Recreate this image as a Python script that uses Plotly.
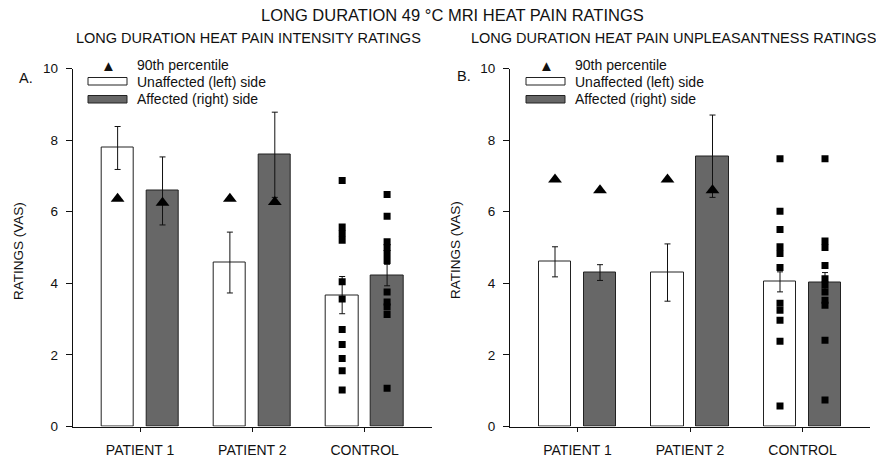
import plotly.graph_objects as go

W, H = 876, 459

groups = ["PATIENT 1", "PATIENT 2", "CONTROL"]
y_ticks = [0, 2, 4, 6, 8, 10]

# Panel A: intensity
int_unaff = [7.78, 4.58, 3.67]
int_unaff_err = [0.60, 0.85, 0.52]
int_aff = [6.58, 7.59, 4.23]
int_aff_err = [0.95, 1.19, 0.30]
int_p90_unaff = [6.36, 6.36]
int_p90_aff = [6.25, 6.27]
int_ctrl_unaff = [6.87, 5.57, 5.39, 5.20, 4.04, 3.56, 2.71, 2.29, 1.90, 1.56, 1.02]
int_ctrl_aff = [6.48, 5.87, 5.16, 5.00, 4.83, 4.64, 3.76, 3.48, 3.34, 3.13, 1.07]

# Panel B: unpleasantness
unp_unaff = [4.60, 4.30, 4.04]
unp_unaff_err = [0.42, 0.80, 0.28]
unp_aff = [4.30, 7.55, 4.02]
unp_aff_err = [0.22, 1.15, 0.28]
unp_p90_unaff = [6.90, 6.90]
unp_p90_aff = [6.60, 6.60]
unp_ctrl_unaff = [7.48, 6.01, 5.50, 5.02, 4.83, 4.44, 3.44, 3.25, 2.97, 2.38, 0.57]
unp_ctrl_aff = [7.48, 5.18, 5.00, 4.50, 4.13, 3.95, 3.76, 3.53, 3.39, 2.41, 0.74]

OFF = 0.2
BW = 0.29
GRAY = "#676767"
EDGE = "#222222"

fig = go.Figure()


def add_panel(xa, ya, unaff, unaff_err, aff, aff_err, p90u, p90a, cu, ca):
    xs = list(range(len(groups)))
    xu = [i - OFF for i in xs]
    xg = [i + OFF for i in xs]
    err_style = dict(type="data", thickness=1, width=3, color="#111111")
    fig.add_trace(go.Bar(x=xu, y=unaff, width=BW, xaxis=xa, yaxis=ya,
                         marker=dict(color="white", line=dict(color=EDGE, width=1)),
                         error_y=dict(array=unaff_err, **err_style),
                         showlegend=False, name="Unaffected (left) side"))
    fig.add_trace(go.Bar(x=xg, y=aff, width=BW, xaxis=xa, yaxis=ya,
                         marker=dict(color=GRAY, line=dict(color=EDGE, width=1)),
                         error_y=dict(array=aff_err, **err_style),
                         showlegend=False, name="Affected (right) side"))
    fig.add_trace(go.Scatter(x=xu[:2], y=p90u, xaxis=xa, yaxis=ya, mode="markers",
                             marker=dict(symbol="triangle-up", size=12, color="black"),
                             showlegend=False, name="90th percentile"))
    fig.add_trace(go.Scatter(x=xg[:2], y=p90a, xaxis=xa, yaxis=ya, mode="markers",
                             marker=dict(symbol="triangle-up", size=12, color="black"),
                             showlegend=False, name="90th percentile"))
    fig.add_trace(go.Scatter(x=[xu[2]] * len(cu), y=cu, xaxis=xa, yaxis=ya, mode="markers",
                             marker=dict(symbol="square", size=7, color="black"),
                             showlegend=False))
    fig.add_trace(go.Scatter(x=[xg[2]] * len(ca), y=ca, xaxis=xa, yaxis=ya, mode="markers",
                             marker=dict(symbol="square", size=7, color="black"),
                             showlegend=False))


add_panel("x", "y", int_unaff, int_unaff_err, int_aff, int_aff_err,
          int_p90_unaff, int_p90_aff, int_ctrl_unaff, int_ctrl_aff)
add_panel("x2", "y2", unp_unaff, unp_unaff_err, unp_aff, unp_aff_err,
          unp_p90_unaff, unp_p90_aff, unp_ctrl_unaff, unp_ctrl_aff)

FONT = "Liberation Sans, Arial, sans-serif"

def fx(px):
    return min(1.0, max(0.0, px / W))

def fy(py):
    return min(1.0, max(0.0, 1 - py / H))

xaxis_common = dict(tickvals=[0, 1, 2], ticktext=groups,
                    showline=True, linecolor="#111111", linewidth=1,
                    ticks="outside", ticklen=4, tickcolor="#111111",
                    showgrid=False, zeroline=False, ticklabelstandoff=7, automargin=False,
                    tickfont=dict(size=14, color="#111111", family=FONT))
yaxis_common = dict(range=[0, 10], tickvals=y_ticks, showline=True, linecolor="#111111",
                    linewidth=1, ticks="outside", ticklen=6, tickcolor="#111111",
                    showgrid=False, zeroline=False, ticklabelstandoff=5, automargin=False,
                    tickfont=dict(size=13.5, color="#111111", family=FONT))

fig.update_layout(
    template="none",
    width=W, height=H,
    margin=dict(l=0, r=0, t=0, b=0, autoexpand=False),
    paper_bgcolor="white", plot_bgcolor="white",
    font=dict(family=FONT, color="#111111"),
    bargap=0,
    xaxis=dict(domain=[fx(72.7), fx(432)], anchor="y", range=[-0.6, 2.6], **xaxis_common),
    yaxis=dict(domain=[fy(426.5), fy(68.5)], anchor="x", **yaxis_common),
    xaxis2=dict(domain=[fx(510), fx(870)], anchor="y2", range=[-0.6, 2.6], **xaxis_common),
    yaxis2=dict(domain=[fy(426.5), fy(68.5)], anchor="x2", **yaxis_common),
)

annotations = [
    dict(text="LONG DURATION 49 °C MRI HEAT PAIN RATINGS", x=fx(452), y=fy(15),
         font=dict(size=16.5)),
    dict(text="LONG DURATION HEAT PAIN INTENSITY RATINGS", x=fx(248.5), y=fy(38),
         font=dict(size=14.5)),
    dict(text="LONG DURATION HEAT PAIN UNPLEASANTNESS RATINGS", x=fx(469), y=fy(38),
         xanchor="left", font=dict(size=14.5)),
    dict(text="A.", x=fx(26), y=fy(78), font=dict(size=14.5)),
    dict(text="B.", x=fx(464), y=fy(76), font=dict(size=14.5)),
    dict(text="RATINGS (VAS)", x=fx(18), y=fy(251), textangle=-90, font=dict(size=13.5)),
    dict(text="RATINGS (VAS)", x=fx(455), y=fy(250), textangle=-90, font=dict(size=13.5)),
]

shapes = []
for lx, tri_x, tx in [(88, 108, 135), (526, 546, 573)]:
    annotations.append(dict(text="▲", x=fx(tri_x), y=fy(65), font=dict(size=15)))
    annotations.append(dict(text="90th percentile", x=fx(tx), y=fy(65), xanchor="left",
                            font=dict(size=14)))
    annotations.append(dict(text="Unaffected (left) side", x=fx(tx), y=fy(81.5), xanchor="left",
                            font=dict(size=14)))
    annotations.append(dict(text="Affected (right) side", x=fx(tx), y=fy(99), xanchor="left",
                            font=dict(size=14)))
    shapes.append(dict(type="rect", xref="paper", yref="paper", x0=fx(lx), x1=fx(lx + 39),
                       y0=fy(77.5), y1=fy(85), fillcolor="white",
                       line=dict(color=EDGE, width=1)))
    shapes.append(dict(type="rect", xref="paper", yref="paper", x0=fx(lx), x1=fx(lx + 39),
                       y0=fy(95.5), y1=fy(103), fillcolor=GRAY,
                       line=dict(color=EDGE, width=1)))

for a in annotations:
    a.setdefault("xref", "paper")
    a.setdefault("yref", "paper")
    a.setdefault("showarrow", False)
    a.setdefault("xanchor", "center")
    a.setdefault("yanchor", "middle")

fig.update_layout(annotations=annotations, shapes=shapes)

# Remove the browser's default 8px body margin so the figure fills the window.
fig.write_html("out.html",
               config={"displayModeBar": False},
               post_script="document.body.style.margin='0px';document.body.style.overflow='hidden';")
